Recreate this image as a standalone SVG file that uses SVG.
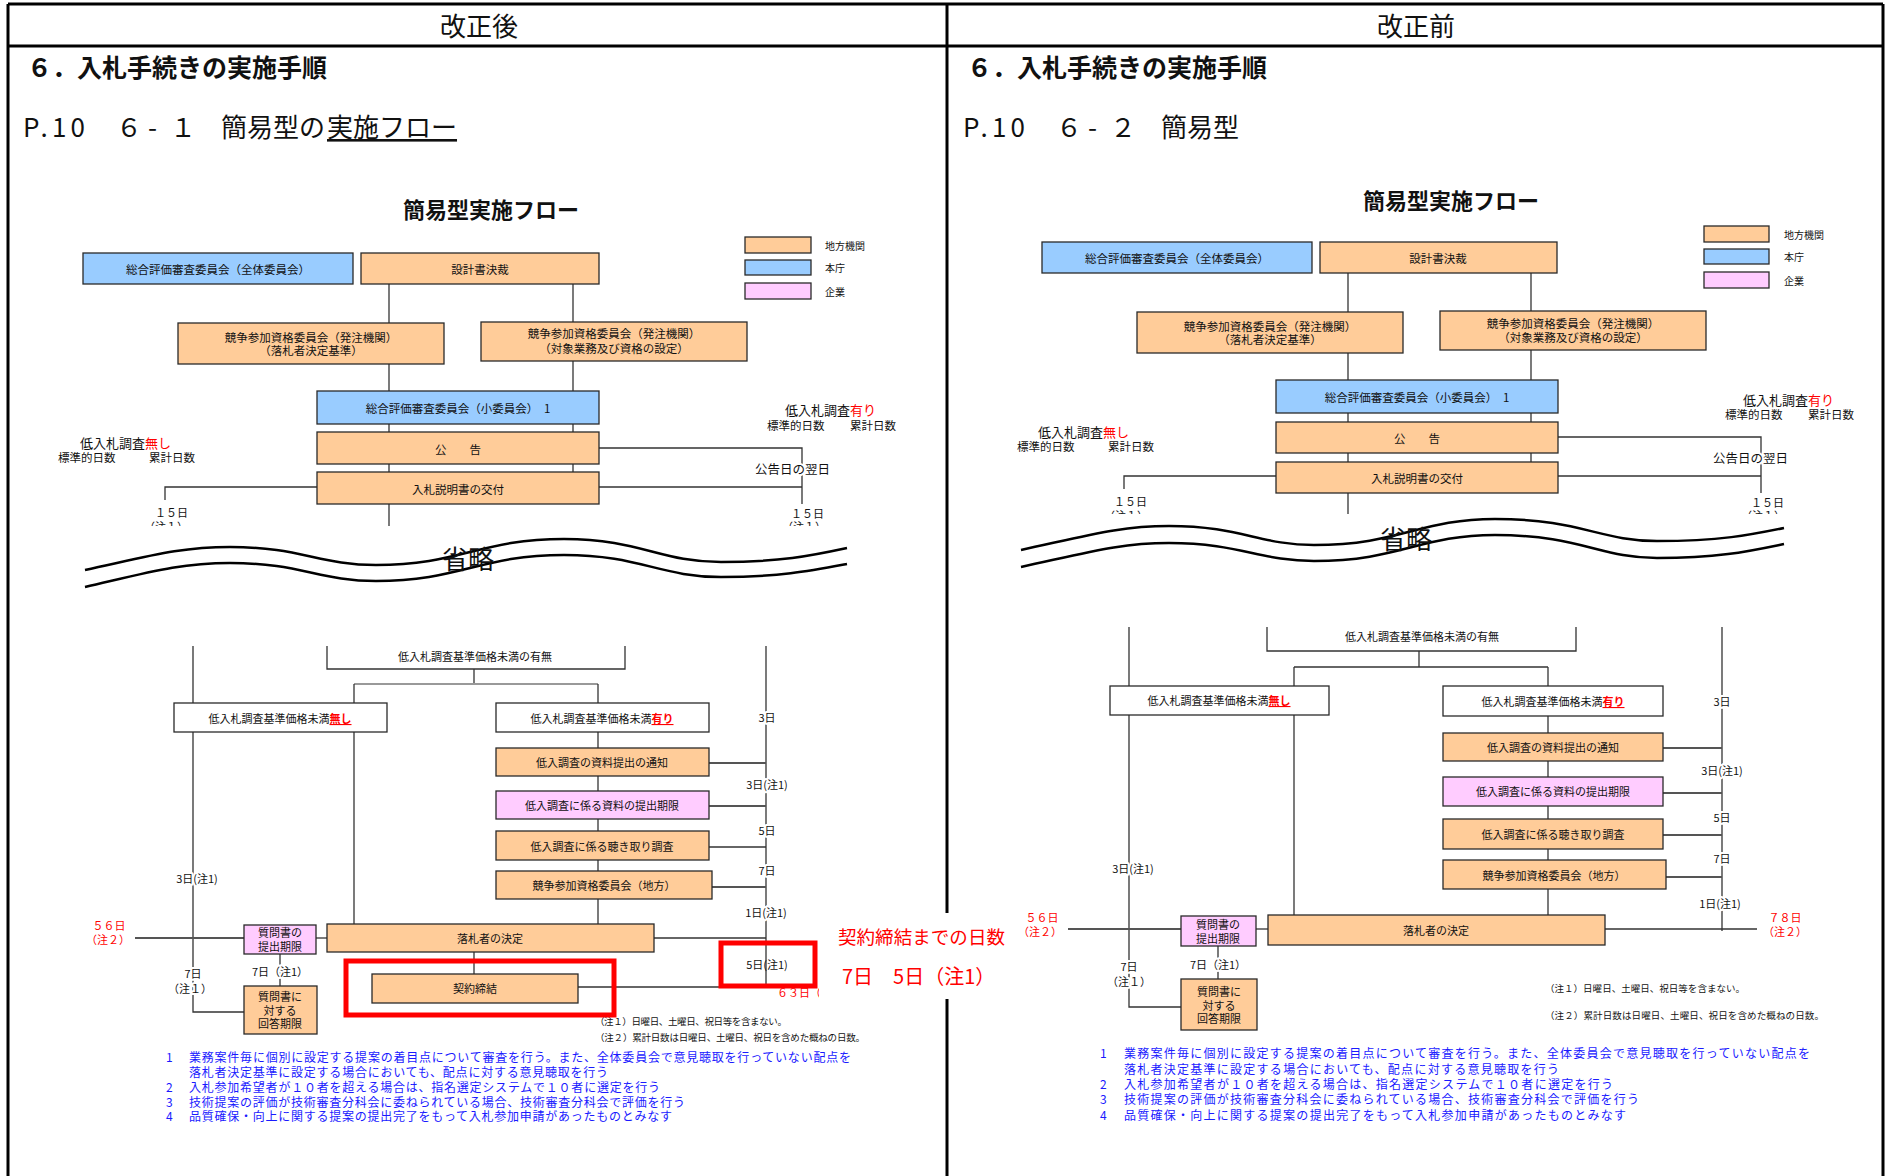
<svg xmlns="http://www.w3.org/2000/svg" width="1885" height="1176" viewBox="0 0 1885 1176">
<defs>
<style>
.o{fill:#FFCC99;stroke:#2a2a2a;stroke-width:1.3}
.b{fill:#99CCFF;stroke:#2a2a2a;stroke-width:1.3}
.p{fill:#FFCCFF;stroke:#2a2a2a;stroke-width:1.3}
.w{fill:#FFFFFF;stroke:#2a2a2a;stroke-width:1.3}
.ln{stroke:#333;stroke-width:1.3;fill:none}
.lg{stroke:#555;stroke-width:1.8;fill:none}
.wave{stroke:#000;stroke-width:2.5;fill:none}
.frame{stroke:#000;stroke-width:3;fill:none}
.redbox{stroke:#FF0000;stroke-width:5;fill:none}
text{font-family:"Noto Sans CJK JP","Noto Sans",sans-serif;dominant-baseline:central;fill:#111}
.t{font-size:11px;text-anchor:middle}
.tu{font-size:11.5px;text-anchor:middle}
.h{stroke:#fff;stroke-width:4px;paint-order:stroke;stroke-linejoin:round}
.red{fill:#FF0000}
.blue{fill:#1A1AFF;font-size:12px}
.note{font-size:9.5px}
.em{fill:#FF0000;font-weight:bold;text-decoration:underline}
</style>
<clipPath id="clipL"><rect x="0" y="40" width="946" height="486"/></clipPath>
<clipPath id="clipR"><rect x="948" y="40" width="937" height="474"/></clipPath>
</defs>
<rect width="1885" height="1176" fill="#fff"/>

<!-- frame -->
<g id="frame">
<line class="frame" x1="8" y1="4" x2="1883" y2="4"/>
<line class="frame" x1="8" y1="46" x2="1883" y2="46"/>
<line class="frame" x1="8" y1="4" x2="8" y2="1176"/>
<line class="frame" x1="947" y1="4" x2="947" y2="1176"/>
<line class="frame" x1="1883" y1="4" x2="1883" y2="1176"/>
<text x="479" y="24" style="font-size:26px;text-anchor:middle">改正後</text>
<text x="1416" y="24" style="font-size:26px;text-anchor:middle">改正前</text>
</g>

<!-- headings -->
<g id="headings">
<text x="27" y="66" style="font-size:25px;font-weight:bold">６．入札手続きの実施手順</text>
<text x="967" y="66" style="font-size:25px;font-weight:bold">６．入札手続きの実施手順</text>
<text y="125" style="font-size:26px"><tspan x="23" textLength="62">P.10</tspan><tspan x="116">６</tspan><tspan x="148">-</tspan><tspan x="170">１</tspan><tspan x="221">簡易型の</tspan><tspan x="327" text-decoration="underline">実施フロー</tspan></text>
<text y="125" style="font-size:26px"><tspan x="963" textLength="62">P.10</tspan><tspan x="1056">６</tspan><tspan x="1088">-</tspan><tspan x="1110">２</tspan><tspan x="1161">簡易型</tspan></text>
<text x="491" y="208" style="font-size:22px;font-weight:bold;text-anchor:middle">簡易型実施フロー</text>
<text x="1451" y="199" style="font-size:22px;font-weight:bold;text-anchor:middle">簡易型実施フロー</text>
</g>

<!-- legends -->
<g id="legendL">
<rect class="o" x="745" y="237" width="66" height="16"/>
<rect class="b" x="745" y="260" width="66" height="15"/>
<rect class="p" x="745" y="283" width="66" height="16"/>
<text x="825" y="245" style="font-size:10px">地方機関</text>
<text x="825" y="267" style="font-size:10px">本庁</text>
<text x="825" y="291" style="font-size:10px">企業</text>
</g>
<g id="legendR">
<rect class="o" x="1704" y="226" width="65" height="16"/>
<rect class="b" x="1704" y="249" width="65" height="15"/>
<rect class="p" x="1704" y="272" width="65" height="16"/>
<text x="1784" y="234" style="font-size:10px">地方機関</text>
<text x="1784" y="256" style="font-size:10px">本庁</text>
<text x="1784" y="280" style="font-size:10px">企業</text>
</g>

<!-- connectors -->
<g id="connectors">
<line class="ln" x1="389" y1="284" x2="389" y2="526"/>
<line class="ln" x1="573" y1="284" x2="573" y2="472"/>
<polyline class="ln" points="599,448 802,448 802,504"/>
<line class="ln" x1="599" y1="487" x2="802" y2="487"/>
<polyline class="ln" points="317,487 165,487 165,500"/>
<line class="ln" x1="1348" y1="273" x2="1348" y2="514"/>
<line class="ln" x1="1531" y1="273" x2="1531" y2="462"/>
<polyline class="ln" points="1558,437 1761,437 1761,493"/>
<line class="ln" x1="1558" y1="476" x2="1761" y2="476"/>
<polyline class="ln" points="1276,476 1124,476 1124,489"/>
<path class="wave" d="M85,570 C150,556 180,547 230,547 C300,547 320,565 376,565 C460,565 480,539 564,539 C640,539 660,562 721,562 C780,562 810,556 847,548"/>
<path class="wave" d="M85,587 C150,572 180,563 230,563 C300,563 320,581 376,581 C460,581 480,555 564,555 C640,555 660,577 721,577 C780,577 810,571 847,564"/>
<path class="wave" d="M1021,550 C1090,535 1120,526 1169,526 C1240,526 1260,545 1314,545 C1400,545 1420,519 1495,519 C1580,519 1600,541 1657,541 C1720,541 1750,535 1784,528"/>
<path class="wave" d="M1021,567 C1090,552 1120,543 1169,543 C1240,543 1260,561 1314,561 C1400,561 1420,535 1495,535 C1580,535 1600,558 1657,558 C1720,558 1750,551 1784,544"/>
<polyline class="ln" points="193,646 193,1012 244,1012"/>
<polyline class="ln" points="327,646 327,669 625,669 625,646"/>
<line class="ln" x1="474" y1="669" x2="474" y2="684"/>
<line class="lg" x1="354" y1="684" x2="598" y2="684" style="stroke:#999"/>
<line class="ln" x1="354" y1="684" x2="354" y2="924"/>
<line class="ln" x1="598" y1="684" x2="598" y2="924"/>
<line class="ln" x1="766" y1="646" x2="766" y2="986"/>
<line class="lg" x1="709" y1="763" x2="766" y2="763"/>
<line class="lg" x1="709" y1="806" x2="766" y2="806"/>
<line class="ln" x1="709" y1="847" x2="766" y2="847"/>
<line class="lg" x1="712" y1="887" x2="766" y2="887"/>
<line class="lg" x1="135" y1="938" x2="244" y2="938"/>
<line class="ln" x1="316" y1="938" x2="327" y2="938"/>
<line class="ln" x1="654" y1="938" x2="766" y2="938"/>
<line class="ln" x1="280" y1="954" x2="280" y2="986"/>
<line class="ln" x1="474" y1="952" x2="474" y2="974"/>
<line class="ln" x1="578" y1="987" x2="721" y2="987"/>
<polyline class="ln" points="1129,627 1129,1007 1181,1007"/>
<polyline class="ln" points="1267,627 1267,651 1576,651 1576,627"/>
<line class="ln" x1="1419" y1="651" x2="1419" y2="667"/>
<line class="ln" x1="1294" y1="667" x2="1548" y2="667"/>
<line class="ln" x1="1294" y1="667" x2="1294" y2="915"/>
<line class="ln" x1="1548" y1="667" x2="1548" y2="915"/>
<line class="ln" x1="1722" y1="627" x2="1722" y2="931"/>
<line class="lg" x1="1663" y1="748" x2="1722" y2="748"/>
<line class="lg" x1="1663" y1="793" x2="1722" y2="793"/>
<line class="lg" x1="1663" y1="835" x2="1722" y2="835"/>
<line class="lg" x1="1666" y1="877" x2="1722" y2="877"/>
<line class="lg" x1="1068" y1="929" x2="1181" y2="929"/>
<line class="ln" x1="1256" y1="929" x2="1268" y2="929"/>
<line class="ln" x1="1605" y1="929" x2="1757" y2="929"/>
<line class="ln" x1="1218" y1="946" x2="1218" y2="979"/>
</g>

<!-- left upper nodes -->
<g id="L_zenkai"><rect class="b" x="83" y="253" width="270" height="31"/><text class="tu" x="218" y="268.5">総合評価審査委員会（全体委員会）</text></g>
<g id="L_sekkei"><rect class="o" x="361" y="253" width="238" height="31"/><text class="tu" x="480" y="268.5">設計書決裁</text></g>
<g id="L_kyoso1"><rect class="o" x="178" y="323" width="266" height="41"/><text class="tu" x="311" y="337">競争参加資格委員会（発注機関）</text><text class="tu" x="311" y="350">（落札者決定基準）</text></g>
<g id="L_kyoso2"><rect class="o" x="481" y="322" width="266" height="39"/><text class="tu" x="614" y="333">競争参加資格委員会（発注機関）</text><text class="tu" x="614" y="348">（対象業務及び資格の設定）</text></g>
<g id="L_shoi"><rect class="b" x="317" y="391" width="282" height="33"/><text class="tu" x="458" y="408">総合評価審査委員会（小委員会）　1</text></g>
<g id="L_koku"><rect class="o" x="317" y="432" width="282" height="32"/><text class="tu" x="458" y="449">公　　告</text></g>
<g id="L_setsumei"><rect class="o" x="317" y="472" width="282" height="32"/><text class="tu" x="458" y="489">入札説明書の交付</text></g>

<!-- right upper nodes -->
<g id="R_zenkai"><rect class="b" x="1042" y="242" width="270" height="31"/><text class="tu" x="1177" y="258">総合評価審査委員会（全体委員会）</text></g>
<g id="R_sekkei"><rect class="o" x="1320" y="242" width="237" height="31"/><text class="tu" x="1438" y="258">設計書決裁</text></g>
<g id="R_kyoso1"><rect class="o" x="1137" y="312" width="266" height="41"/><text class="tu" x="1270" y="326">競争参加資格委員会（発注機関）</text><text class="tu" x="1270" y="339">（落札者決定基準）</text></g>
<g id="R_kyoso2"><rect class="o" x="1440" y="311" width="266" height="39"/><text class="tu" x="1573" y="323">競争参加資格委員会（発注機関）</text><text class="tu" x="1573" y="337">（対象業務及び資格の設定）</text></g>
<g id="R_shoi"><rect class="b" x="1276" y="380" width="282" height="33"/><text class="tu" x="1417" y="397">総合評価審査委員会（小委員会）　1</text></g>
<g id="R_koku"><rect class="o" x="1276" y="422" width="282" height="31"/><text class="tu" x="1417" y="438">公　　告</text></g>
<g id="R_setsumei"><rect class="o" x="1276" y="462" width="282" height="31"/><text class="tu" x="1417" y="478">入札説明書の交付</text></g>

<!-- upper labels -->
<g id="labelsUpper">
<text x="80" y="442" style="font-size:13px">低入札調査<tspan class="red">無し</tspan></text>
<text x="58" y="457" style="font-size:11.5px">標準的日数</text>
<text x="149" y="457" style="font-size:11.5px">累計日数</text>
<text x="785" y="409" style="font-size:13px">低入札調査<tspan class="red">有り</tspan></text>
<text x="767" y="425" style="font-size:11.5px">標準的日数</text>
<text x="850" y="425" style="font-size:11.5px">累計日数</text>
<text class="h" x="755" y="468" style="font-size:12.5px">公告日の翌日</text>
<text x="155" y="512" style="font-size:11px">１５日</text>
<text x="791" y="513" style="font-size:11px">１５日</text>
<g clip-path="url(#clipL)"><text x="144" y="526" style="font-size:11px">（注１）</text><text x="782" y="526" style="font-size:11px">（注１）</text></g>
<text x="442" y="557" style="font-size:26px">省略</text>

<text x="1038" y="431" style="font-size:13px">低入札調査<tspan class="red">無し</tspan></text>
<text x="1017" y="446" style="font-size:11.5px">標準的日数</text>
<text x="1108" y="446" style="font-size:11.5px">累計日数</text>
<text x="1743" y="399" style="font-size:13px">低入札調査<tspan class="red">有り</tspan></text>
<text x="1725" y="414" style="font-size:11.5px">標準的日数</text>
<text x="1808" y="414" style="font-size:11.5px">累計日数</text>
<text class="h" x="1713" y="457" style="font-size:12.5px">公告日の翌日</text>
<text x="1114" y="501" style="font-size:11px">１５日</text>
<text x="1751" y="502" style="font-size:11px">１５日</text>
<g clip-path="url(#clipR)"><text x="1104" y="515" style="font-size:11px">（注１）</text><text x="1741" y="515" style="font-size:11px">（注１）</text></g>
<text x="1380" y="537" style="font-size:26px">省略</text>
</g>

<!-- left lower nodes -->
<g id="L_umu"><text class="t" x="475" y="656">低入札調査基準価格未満の有無</text></g>
<g id="L_nashi"><rect class="w" x="174" y="703" width="213" height="29"/><text class="t" x="280" y="718">低入札調査基準価格未満<tspan class="em">無し</tspan></text></g>
<g id="L_ari"><rect class="w" x="496" y="703" width="213" height="29"/><text class="t" x="602" y="718">低入札調査基準価格未満<tspan class="em">有り</tspan></text></g>
<g id="L_tsuchi"><rect class="o" x="496" y="748" width="213" height="28"/><text class="t" x="602" y="762">低入調査の資料提出の通知</text></g>
<g id="L_kigen"><rect class="p" x="496" y="791" width="213" height="28"/><text class="t" x="602" y="805">低入調査に係る資料の提出期限</text></g>
<g id="L_kikitori"><rect class="o" x="496" y="831" width="213" height="29"/><text class="t" x="602" y="846">低入調査に係る聴き取り調査</text></g>
<g id="L_chiho"><rect class="o" x="496" y="871" width="216" height="28"/><text class="t" x="604" y="885">競争参加資格委員会（地方）</text></g>
<g id="L_rakusatsu"><rect class="o" x="327" y="924" width="327" height="28"/><text class="t" x="490" y="938">落札者の決定</text></g>
<g id="L_shitsumon"><rect class="p" x="244" y="925" width="72" height="29"/><text class="t" x="280" y="932">質問書の</text><text class="t" x="280" y="946">提出期限</text></g>
<g id="L_kaito"><rect class="o" x="244" y="986" width="73" height="48"/><text class="t" x="280" y="996">質問書に</text><text class="t" x="280" y="1010">対する</text><text class="t" x="280" y="1023">回答期限</text></g>
<g id="L_keiyaku"><rect class="o" x="372" y="974" width="206" height="29"/><text class="t" x="475" y="988">契約締結</text></g>

<!-- right lower nodes -->
<g id="R_umu"><text class="t" x="1422" y="636">低入札調査基準価格未満の有無</text></g>
<g id="R_nashi"><rect class="w" x="1110" y="686" width="219" height="29"/><text class="t" x="1219" y="700">低入札調査基準価格未満<tspan class="em">無し</tspan></text></g>
<g id="R_ari"><rect class="w" x="1443" y="686" width="220" height="30"/><text class="t" x="1553" y="701">低入札調査基準価格未満<tspan class="em">有り</tspan></text></g>
<g id="R_tsuchi"><rect class="o" x="1443" y="733" width="220" height="28"/><text class="t" x="1553" y="747">低入調査の資料提出の通知</text></g>
<g id="R_kigen"><rect class="p" x="1443" y="777" width="220" height="29"/><text class="t" x="1553" y="791">低入調査に係る資料の提出期限</text></g>
<g id="R_kikitori"><rect class="o" x="1443" y="819" width="220" height="30"/><text class="t" x="1553" y="834">低入調査に係る聴き取り調査</text></g>
<g id="R_chiho"><rect class="o" x="1443" y="860" width="223" height="29"/><text class="t" x="1554" y="875">競争参加資格委員会（地方）</text></g>
<g id="R_rakusatsu"><rect class="o" x="1268" y="915" width="337" height="30"/><text class="t" x="1436" y="930">落札者の決定</text></g>
<g id="R_shitsumon"><rect class="p" x="1181" y="916" width="75" height="30"/><text class="t" x="1218" y="924">質問書の</text><text class="t" x="1218" y="938">提出期限</text></g>
<g id="R_kaito"><rect class="o" x="1181" y="979" width="76" height="51"/><text class="t" x="1219" y="991">質問書に</text><text class="t" x="1219" y="1005">対する</text><text class="t" x="1219" y="1018">回答期限</text></g>

<!-- lower labels -->
<g id="labelsLower">
<text class="t h" x="767" y="717">3日</text>
<text class="t h" x="767" y="784">3日(注1)</text>
<text class="t h" x="767" y="830">5日</text>
<text class="t h" x="767" y="870">7日</text>
<text class="t h" x="766" y="912">1日(注1)</text>
<text class="t" x="767" y="964">5日(注1)</text>
<text class="t h" x="197" y="878">3日(注1)</text>
<text class="t h" x="193" y="973">7日</text>
<text class="t h" x="190" y="988">（注１）</text>
<text class="t h" x="280" y="971">7日（注1）</text>
<text class="t red" x="109" y="925">５６日</text>
<text class="t red" x="108" y="939">（注２）</text>
<text class="note" x="595" y="1021" textLength="192">（注１）日曜日、土曜日、祝日等を含まない。</text>
<text class="note" x="595" y="1037" textLength="270">（注２）累計日数は日曜日、土曜日、祝日を含めた概ねの日数。</text>

<text class="t h" x="1722" y="701">3日</text>
<text class="t h" x="1722" y="770">3日(注1)</text>
<text class="t h" x="1722" y="817">5日</text>
<text class="t h" x="1722" y="858">7日</text>
<text class="t h" x="1720" y="903">1日(注1)</text>
<text class="t h" x="1133" y="868">3日(注1)</text>
<text class="t h" x="1129" y="966">7日</text>
<text class="t h" x="1129" y="981">（注１）</text>
<text class="t h" x="1218" y="964">7日（注1）</text>
<text class="t red" x="1042" y="917">５６日</text>
<text class="t red" x="1040" y="931">（注２）</text>
<text class="t red" x="1785" y="917">７８日</text>
<text class="t red" x="1785" y="931">（注２）</text>
<text class="note" x="1545" y="988" textLength="200">（注１）日曜日、土曜日、祝日等を含まない。</text>
<text class="note" x="1545" y="1015" textLength="279">（注２）累計日数は日曜日、土曜日、祝日を含めた概ねの日数。</text>
</g>

<!-- footnotes -->
<g id="footL">
<text class="blue" x="166" y="1056">1</text>
<text class="blue" x="189" y="1056" textLength="662">業務案件毎に個別に設定する提案の着目点について審査を行う。また、全体委員会で意見聴取を行っていない配点を</text>
<text class="blue" x="189" y="1071" textLength="419">落札者決定基準に設定する場合においても、配点に対する意見聴取を行う</text>
<text class="blue" x="166" y="1086">2</text>
<text class="blue" x="189" y="1086" textLength="471">入札参加希望者が１０者を超える場合は、指名選定システムで１０者に選定を行う</text>
<text class="blue" x="166" y="1101">3</text>
<text class="blue" x="189" y="1101" textLength="496">技術提案の評価が技術審査分科会に委ねられている場合、技術審査分科会で評価を行う</text>
<text class="blue red" x="166" y="1115">4</text>
<text class="blue red" x="189" y="1115" textLength="483">品質確保・向上に関する提案の提出完了をもって入札参加申請があったものとみなす</text>
</g>
<g id="footR">
<text class="blue" x="1100" y="1052">1</text>
<text class="blue" x="1124" y="1052" textLength="686">業務案件毎に個別に設定する提案の着目点について審査を行う。また、全体委員会で意見聴取を行っていない配点を</text>
<text class="blue" x="1124" y="1068" textLength="435">落札者決定基準に設定する場合においても、配点に対する意見聴取を行う</text>
<text class="blue" x="1100" y="1083">2</text>
<text class="blue" x="1124" y="1083" textLength="489">入札参加希望者が１０者を超える場合は、指名選定システムで１０者に選定を行う</text>
<text class="blue" x="1100" y="1098">3</text>
<text class="blue" x="1124" y="1098" textLength="515">技術提案の評価が技術審査分科会に委ねられている場合、技術審査分科会で評価を行う</text>
<text class="blue red" x="1100" y="1114">4</text>
<text class="blue red" x="1124" y="1114" textLength="502">品質確保・向上に関する提案の提出完了をもって入札参加申請があったものとみなす</text>
</g>

<!-- callout -->
<g id="callout">
<rect class="redbox" x="346" y="961" width="268" height="54"/>
<rect class="redbox" x="721" y="943" width="94" height="43"/>
<text class="t red" x="777" y="992" style="text-anchor:start">６３日（</text>
<rect x="819" y="913" width="193" height="86" fill="#fff"/>
<text class="red" x="838" y="936" style="font-size:18.5px" textLength="167">契約締結までの日数</text>
<text class="red" x="842" y="975" style="font-size:20px" xml:space="preserve">7日　5日（注1）</text>
</g>
</svg>
